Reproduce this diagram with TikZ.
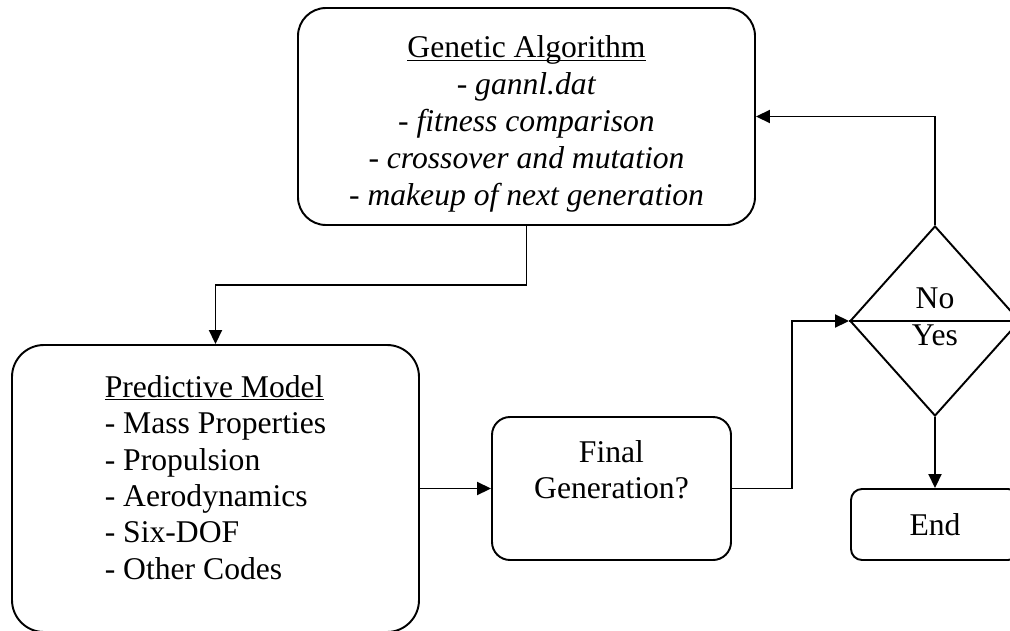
\documentclass[tikz,border=0pt]{standalone}
\usepackage{fontspec}
\setmainfont{Liberation Serif}
\usetikzlibrary{positioning,shapes.geometric,arrows.meta}
\newcommand{\uhead}[1]{\underline{\raisebox{0pt}[\height][0pt]{#1}}}

\begin{document}
\begin{tikzpicture}[
	font=\fontsize{18}{20.7}\selectfont,
	every node/.style={inner sep=0pt},
	box/.style={draw, line width=1.1pt, rounded corners=#1},
	link/.style={line width=1.1pt},
	arr/.style={link, -{Triangle[length=0.28cm,width=0.26cm]}},
	]
	\useasboundingbox (0,0) rectangle (20.2,12.6);
	\clip (0,0) rectangle (20.2,12.6);
	%% genetic algorithm
	\node[box=0.56cm, minimum width=9.14cm, minimum height=4.34cm] (ga) at (10.53,10.27) {};
	\node[align=center, font=\fontsize{18}{21.1}\selectfont] (gatxt) at (10.53,10.12) {\uhead{Genetic Algorithm}\\
		\textit{- gannl.dat}\\
		\textit{- fitness comparison}\\
		\textit{- crossover and mutation}\\
		\textit{- makeup of next generation}};
	%% predictive model
	\node[box=0.64cm, minimum width=8.14cm, minimum height=5.74cm] (pm) at (4.31,2.83) {};
	\node[align=left] (pmtxt) at (4.31,3.05) {\uhead{Predictive Model}\\
		- Mass Properties\\
		- Propulsion\\
		- Aerodynamics\\
		- Six-DOF\\
		- Other Codes};
	%% final generation
	\node[box=0.36cm, minimum width=4.78cm, minimum height=2.86cm] (fg) at (12.23,2.83) {};
	\node[align=center] (fgtxt) at (12.23,3.20) {Final\\Generation?};
	%% decision
	\node[draw, diamond, line width=1.1pt, minimum width=3.4cm, minimum height=3.8cm] (dec) at (18.70,6.18) {};
	\node (no) at (18.70,6.64) {No};
	\node (yes) at (18.70,5.90) {Yes};
	%% end
	\node[box=0.22cm, minimum width=3.36cm, minimum height=1.42cm] (stop) at (18.70,2.11) {End};
	% connectors
	\draw[link] (dec.west) -- (dec.east);
	\draw[arr] (ga.south) -- ++(0,-1.18) -| (pm.north);
	\draw[arr] (pm.east) -- (fg.west);
	\draw[arr] (fg.east) -- ++(1.2,0) |- (dec.west);
	\draw[arr] (dec.north) |- (ga.east);
	\draw[arr] (dec.south) -- (stop.north);
\end{tikzpicture}
\end{document}
